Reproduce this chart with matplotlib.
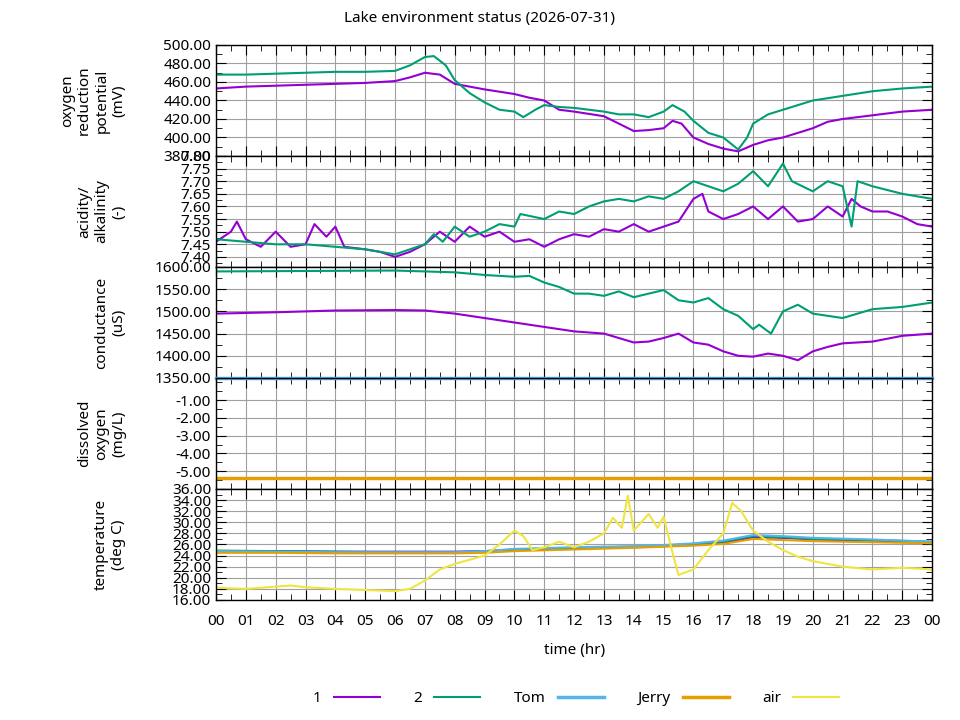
import matplotlib
matplotlib.use("Agg")
import matplotlib.pyplot as plt
from matplotlib.ticker import MultipleLocator, FixedLocator, FormatStrFormatter

plt.rcParams['font.family'] = ['Noto Sans', 'DejaVu Sans']
plt.rcParams['font.size'] = 11

PURPLE = '#9400d3'
GREEN = '#009e73'
BLUE = '#56b4e9'
ORANGE = '#e69f00'
YELLOW = '#f0e442'

# oxygen reduction potential
orp1_t = [0, 1, 2, 3, 4, 5, 6, 6.5, 7, 7.5, 8, 8.5, 9, 10, 10.5, 11, 11.5, 12, 13, 13.5, 14, 14.5, 15, 15.3, 15.6,
          16, 16.5, 17, 17.5, 18, 18.5, 19, 19.5, 20, 20.5, 21, 22, 23, 24]
orp1_v = [453, 455, 456, 457, 458, 459, 461, 465, 470, 468, 458, 455, 452, 447, 443, 440, 430, 428, 423, 415, 407, 408,
          410, 418, 415, 400, 393, 388, 385, 392, 397, 400, 405, 410, 417, 420, 424, 428, 430]
orp2_t = [0, 1, 2, 3, 4, 5, 6, 6.5, 7, 7.3, 7.7, 8, 8.5, 9, 9.5, 10, 10.3, 10.7, 11, 11.5, 12, 12.5, 13, 13.5, 14,
          14.5, 15, 15.3, 15.7, 16, 16.5, 17, 17.5, 17.8, 18, 18.5, 19, 19.5, 20, 21, 22, 23, 24]
orp2_v = [468, 468, 469, 470, 471, 471, 472, 478, 487, 488, 478, 462, 448, 438, 430, 428, 422, 430, 435, 433, 432, 430,
          428, 425, 425, 422, 428, 435, 428, 418, 405, 400, 387, 400, 415, 425, 430, 435, 440, 445, 450, 453, 455]

# acidity / alkalinity
ph1_t = [0, 0.5, 0.7, 1, 1.5, 2, 2.5, 3, 3.3, 3.7, 4, 4.3, 5, 5.5, 6, 6.5, 7, 7.5, 8, 8.5, 9, 9.5, 10, 10.5, 11,
         11.5, 12, 12.5, 13, 13.5, 14, 14.5, 15, 15.5, 16, 16.3, 16.5, 17, 17.5, 18, 18.5, 19, 19.5, 20, 20.5, 21,
         21.3, 21.6, 22, 22.5, 23, 23.5, 24]
ph1_v = [7.46, 7.50, 7.54, 7.47, 7.44, 7.50, 7.44, 7.45, 7.53, 7.48, 7.52, 7.44, 7.43, 7.42, 7.40, 7.42, 7.45, 7.50,
         7.46, 7.52, 7.48, 7.50, 7.46, 7.47, 7.44, 7.47, 7.49, 7.48, 7.51, 7.50, 7.53, 7.50, 7.52, 7.54, 7.63, 7.65,
         7.58, 7.55, 7.57, 7.60, 7.55, 7.60, 7.54, 7.55, 7.60, 7.56, 7.63, 7.60, 7.58, 7.58, 7.56, 7.53, 7.52]
ph2_t = [0, 1, 2, 3, 4, 5, 6, 6.5, 7, 7.3, 7.6, 8, 8.5, 9, 9.5, 10, 10.2, 11, 11.5, 12, 12.5, 13, 13.5, 14, 14.5,
         15, 15.5, 16, 16.5, 17, 17.5, 18, 18.5, 19, 19.3, 20, 20.5, 21, 21.3, 21.5, 22, 23, 24]
ph2_v = [7.47, 7.46, 7.45, 7.45, 7.44, 7.43, 7.41, 7.43, 7.45, 7.49, 7.46, 7.52, 7.48, 7.50, 7.53, 7.52, 7.57, 7.55,
         7.58, 7.57, 7.60, 7.62, 7.63, 7.62, 7.64, 7.63, 7.66, 7.70, 7.68, 7.66, 7.69, 7.74, 7.68, 7.77, 7.70, 7.66,
         7.70, 7.68, 7.52, 7.70, 7.68, 7.65, 7.63]

# conductance
cond1_t = [0, 2, 4, 6, 7, 8, 9, 10, 11, 12, 13, 14, 14.5, 15, 15.5, 16, 16.5, 17, 17.5, 18, 18.5, 19, 19.5, 20,
           20.5, 21, 22, 23, 24]
cond1_v = [1495, 1498, 1502, 1503, 1502, 1495, 1485, 1475, 1465, 1455, 1450, 1430, 1432, 1440, 1450, 1430, 1425,
           1410, 1400, 1398, 1405, 1400, 1390, 1410, 1420, 1428, 1432, 1445, 1450]
cond2_t = [0, 3, 6, 7, 8, 9, 10, 10.5, 11, 11.5, 12, 12.5, 13, 13.5, 14, 14.5, 15, 15.5, 16, 16.5, 17, 17.5, 18,
           18.2, 18.6, 19, 19.5, 20, 20.5, 21, 22, 23, 24]
cond2_v = [1590, 1591, 1592, 1590, 1588, 1582, 1578, 1580, 1565, 1555, 1540, 1540, 1535, 1545, 1532, 1540, 1548,
           1525, 1520, 1530, 1505, 1490, 1460, 1470, 1450, 1500, 1515, 1495, 1490, 1485, 1505, 1510, 1520]

# dissolved oxygen
do_t = [0, 24]
do_tom = [0.25, 0.25]
do_jerry = [-5.4, -5.4]

# temperature
temp_t = [0, 2, 4, 6, 8, 9, 10, 12, 14, 15, 16, 17, 18, 19, 20, 22, 24]
temp1 = [24.8, 24.8, 24.7, 24.7, 24.7, 24.8, 25.0, 25.3, 25.5, 25.7, 25.9, 26.3, 27.3, 27.2, 26.9, 26.7, 26.4]
temp2 = [24.9, 24.8, 24.7, 24.6, 24.6, 24.8, 25.1, 25.4, 25.6, 25.8, 26.1, 26.5, 27.5, 27.3, 27.0, 26.8, 26.5]
temp_tom = [24.8, 24.7, 24.6, 24.6, 24.6, 24.8, 25.2, 25.5, 25.7, 25.9, 26.2, 26.7, 27.7, 27.5, 27.2, 26.9, 26.5]
temp_jerry = [24.5, 24.5, 24.4, 24.4, 24.4, 24.5, 24.8, 25.1, 25.4, 25.6, 25.8, 26.1, 27.0, 26.8, 26.6, 26.4, 26.2]
air_t = [0, 1, 2, 2.5, 3, 4, 5, 6, 6.5, 7, 7.5, 8, 9, 9.5, 10, 10.3, 10.6, 11, 11.5, 12, 12.5, 13, 13.3, 13.6, 13.8,
         14, 14.5, 14.8, 15, 15.3, 15.5, 16, 16.5, 17, 17.3, 17.6, 18, 18.5, 19, 19.5, 20, 21, 22, 23, 24]
air_v = [18.2, 18.0, 18.4, 18.6, 18.3, 18.0, 17.8, 17.6, 18.0, 19.5, 21.5, 22.5, 24.0, 26.0, 28.5, 27.5, 25.0, 25.5,
         26.5, 25.5, 26.5, 28.0, 30.8, 29.0, 34.8, 28.5, 31.5, 29.0, 31.0, 24.5, 20.5, 21.5, 25.0, 28.0, 33.5, 32.0,
         28.5, 26.5, 25.0, 23.8, 23.0, 22.0, 21.5, 21.8, 21.5]

hour_labels = ["%02d" % (h % 24) for h in range(25)]

fig, axes = plt.subplots(5, 1, sharex=True, figsize=(9.6, 7.2), dpi=100)
fig.subplots_adjust(left=0.225, right=0.971, top=0.9375, bottom=0.1667, hspace=0)
fig.suptitle("Lake environment status (2026-07-31)", y=0.985, fontsize=11)

lw = 1.5
l1, = axes[0].plot(orp1_t, orp1_v, color=PURPLE, lw=lw, label="1")
l2, = axes[0].plot(orp2_t, orp2_v, color=GREEN, lw=lw, label="2")
axes[1].plot(ph1_t, ph1_v, color=PURPLE, lw=lw)
axes[1].plot(ph2_t, ph2_v, color=GREEN, lw=lw)
axes[2].plot(cond1_t, cond1_v, color=PURPLE, lw=lw)
axes[2].plot(cond2_t, cond2_v, color=GREEN, lw=lw)
l3, = axes[3].plot(do_t, do_tom, color=BLUE, lw=lw + 1, label="Tom", clip_on=False)
l4, = axes[3].plot(do_t, do_jerry, color=ORANGE, lw=lw + 1, label="Jerry")
axes[4].plot(temp_t, temp1, color=PURPLE, lw=lw)
axes[4].plot(temp_t, temp2, color=GREEN, lw=lw)
axes[4].plot(temp_t, temp_tom, color=BLUE, lw=lw)
axes[4].plot(temp_t, temp_jerry, color=ORANGE, lw=lw)
l5, = axes[4].plot(air_t, air_v, color=YELLOW, lw=lw, label="air")

axes[0].set_ylim(380, 500)
axes[0].yaxis.set_major_locator(MultipleLocator(20))
axes[0].yaxis.set_minor_locator(MultipleLocator(10))
axes[1].set_ylim(7.36, 7.80)
axes[1].yaxis.set_major_locator(MultipleLocator(0.05))
axes[1].yaxis.set_minor_locator(MultipleLocator(0.025))
axes[2].set_ylim(1350, 1600)
axes[2].yaxis.set_major_locator(MultipleLocator(50))
axes[2].yaxis.set_minor_locator(MultipleLocator(25))
axes[3].set_ylim(-6.0, 0.25)
axes[3].yaxis.set_major_locator(FixedLocator([-5, -4, -3, -2, -1]))
axes[3].yaxis.set_minor_locator(MultipleLocator(0.5))
axes[4].set_ylim(16, 36)
axes[4].yaxis.set_major_locator(MultipleLocator(2))
axes[4].yaxis.set_minor_locator(MultipleLocator(1))

ylabels = ["oxygen\nreduction\npotential\n(mV)", "acidity/\nalkalinity\n(-)", "conductance\n(uS)",
           "dissolved\noxygen\n(mg/L)", "temperature\n(deg C)"]
for ax, lab in zip(axes, ylabels):
    ax.set_ylabel(lab, labelpad=8)
    ax.yaxis.set_label_coords(-0.125, 0.5)
    ax.yaxis.set_major_formatter(FormatStrFormatter('%.2f'))
    ax.grid(True, which='major', color='#a0a0a0', lw=0.8)
    ax.tick_params(which='both', direction='in', top=True, right=True, labelsize=11)
    ax.tick_params(which='major', length=7)
    ax.tick_params(which='minor', length=4)
    ax.xaxis.set_minor_locator(MultipleLocator(0.5))
    for s in ax.spines.values():
        s.set_linewidth(1)
    ax.set_xlim(0, 24)

axes[4].set_xticks(range(25))
axes[4].set_xticklabels(hour_labels)
axes[4].tick_params(axis='x', pad=10)
axes[4].set_xlabel("time (hr)", labelpad=10)

fig.legend(handles=[l1, l2, l3, l4, l5], loc='lower center', bbox_to_anchor=(0.6, 0.0), ncol=5,
           frameon=False, markerfirst=False, handlelength=3.0, columnspacing=2.2, fontsize=11)

fig.savefig("out.png", dpi=100)
